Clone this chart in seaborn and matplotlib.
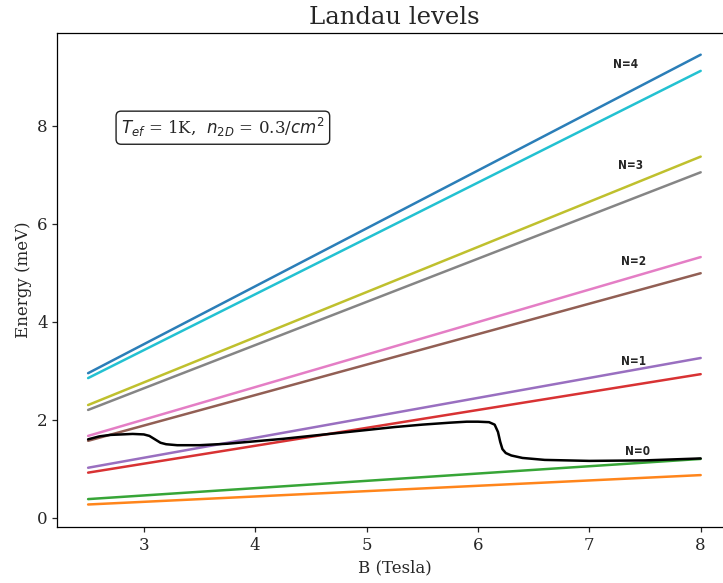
import numpy as np
import pandas as pd
import seaborn as sns
import matplotlib
matplotlib.use("Agg")
import matplotlib.pyplot as plt

# Landau level lines, end points (B = 2.5 and B = 8)
b_ends = [2.5, 8.0]
level_names = ['N=0 low', 'N=0 high', 'N=1 low', 'N=1 high', 'N=2 low',
               'N=2 high', 'N=3 low', 'N=3 high', 'N=4 low', 'N=4 high']
e_start = [0.27, 0.38, 0.92, 1.02, 1.57, 1.67, 2.20, 2.30, 2.85, 2.95]
e_end = [0.87, 1.20, 2.93, 3.26, 4.99, 5.32, 7.05, 7.37, 9.12, 9.45]
level_colors = ['#ff7f0e', '#2ca02c', '#d62728', '#9467bd', '#8c564b',
                '#e377c2', '#7f7f7f', '#bcbd22', '#17becf', '#1f77b4']

# Fermi energy curve (black)
fermi_b = [2.50, 2.60, 2.70, 2.80, 2.90, 3.00, 3.05, 3.10, 3.15, 3.20,
           3.30, 3.50, 3.75, 4.00, 4.25, 4.50, 4.75, 5.00, 5.25, 5.50,
           5.75, 5.90, 6.00, 6.10, 6.15, 6.18, 6.20, 6.22, 6.25, 6.30,
           6.40, 6.60, 7.00, 7.50, 8.00]
fermi_e = [1.60, 1.66, 1.69, 1.70, 1.71, 1.70, 1.67, 1.60, 1.53, 1.50,
           1.48, 1.48, 1.51, 1.56, 1.61, 1.67, 1.73, 1.79, 1.85, 1.90,
           1.94, 1.96, 1.96, 1.95, 1.90, 1.75, 1.55, 1.40, 1.32, 1.27,
           1.22, 1.18, 1.16, 1.17, 1.21]

# N labels
n_labels = ['N=4', 'N=3', 'N=2', 'N=1', 'N=0']
n_label_b = [7.33, 7.37, 7.40, 7.40, 7.43]
n_label_e = [9.25, 7.19, 5.23, 3.18, 1.36]

rows = []
for name, e0, e1 in zip(level_names, e_start, e_end):
    rows.append({'level': name, 'B': b_ends[0], 'E': e0})
    rows.append({'level': name, 'B': b_ends[1], 'E': e1})
levels = pd.DataFrame(rows)
fermi = pd.DataFrame({'B': fermi_b, 'E': fermi_e})

sns.set_theme(style="ticks", rc={'axes.linewidth': 0.9,
                                 'xtick.major.width': 0.9,
                                 'ytick.major.width': 0.9,
                                 'xtick.major.size': 3.5,
                                 'ytick.major.size': 3.5})
plt.rcParams['font.family'] = ['DejaVu Serif']
plt.rcParams['mathtext.fontset'] = 'dejavusans'

fig = plt.figure(figsize=(7.23, 5.83), dpi=100)
ax = fig.add_axes([0.0795, 0.096, 0.932, 0.848])

sns.lineplot(data=levels, x='B', y='E', hue='level', hue_order=level_names,
             palette=level_colors, linewidth=1.8, alpha=0.95, legend=False, ax=ax)
sns.lineplot(data=fermi, x='B', y='E', color='black', linewidth=1.8,
             legend=False, ax=ax)

for lab, bx, ey in zip(n_labels, n_label_b, n_label_e):
    ax.text(bx, ey, lab, ha='center', va='center', fontsize=8.5,
            fontweight='bold', family='DejaVu Sans', fontstretch='condensed')

ax.text(3.71, 7.96, '$T_{ef}$ = 1K,  $n_{2D}$ = 0.3/$cm^2$', ha='center',
        va='center', fontsize=12,
        bbox=dict(boxstyle='round', facecolor='white', edgecolor='#222222',
                  linewidth=1.0))

ax.set_xlim(2.225, 8.275)
ax.set_ylim(-0.19, 9.9)
ax.set_xticks([3, 4, 5, 6, 7, 8])
ax.set_yticks([0, 2, 4, 6, 8])
ax.tick_params(labelsize=12)
ax.set_xlabel('B (Tesla)', fontsize=12)
ax.set_ylabel('Energy (meV)', fontsize=12)
ax.set_title('Landau levels', fontsize=17.5)
for s in ax.spines.values():
    s.set_visible(True)
    s.set_color('black')

fig.savefig('out.png', dpi=100)
